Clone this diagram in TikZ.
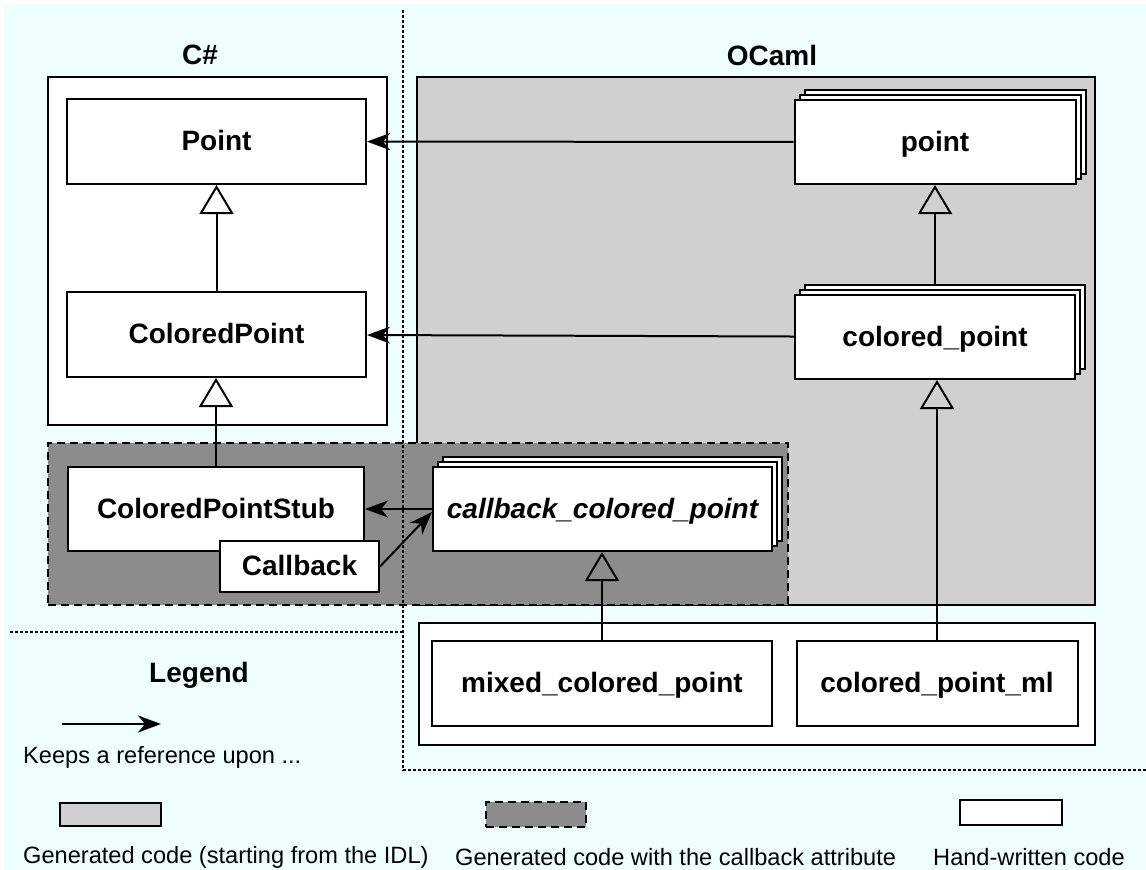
\documentclass[tikz,border=0pt]{standalone}
\usepackage{fontspec}
\setmainfont{Liberation Sans}
\usetikzlibrary{arrows.meta,shadows}
\definecolor{bgcyan}{RGB}{239,255,255}
\definecolor{idlgray}{RGB}{208,208,208}
\definecolor{cbgray}{RGB}{140,140,140}
\tikzset{
  lbl/.style={font=\fontsize{28}{33}\selectfont\bfseries},
  txt/.style={font=\fontsize{23.6}{28}\selectfont, anchor=west, inner sep=0pt},
  cls/.style={draw, fill=white, line width=2pt, inner sep=0pt, lbl,
      text height=18pt, text depth=-2pt},
  stackbox/.style={cls, double copy shadow={shadow xshift=5pt, shadow yshift=5pt,
      fill=white, draw=black, line width=2pt}},
  frame/.style={draw, line width=2pt, inner sep=0pt},
  sep/.style={line width=1.8pt, dash pattern=on 2.5pt off 2.5pt},
  ref/.style={line width=2pt, -{Stealth[length=23pt, width=17pt, inset=7pt]}},
  inh/.style={line width=2pt, -{Triangle[open, length=29pt, width=34pt, line width=2pt]}},
}
\begin{document}
\begin{tikzpicture}[x=1pt, y=-1pt]
\useasboundingbox (0,0) rectangle (1146,870);
\fill[bgcyan] (4,4) rectangle (1146,870);

% code regions
\node[frame, fill=idlgray, minimum width=678pt, minimum height=528pt] (ocamlbox) at (756,341) {};
\node[frame, fill=white, minimum width=339pt, minimum height=348pt] (csbox) at (217.5,251) {};
\node[frame, fill=cbgray, dash pattern=on 8pt off 5pt, minimum width=740pt, minimum height=162pt] (cbbox) at (418,524) {};
\node[frame, fill=white, minimum width=676pt, minimum height=122pt] (handbox) at (757,684) {};

% separators
\draw[sep] (403,10) -- (403,770) -- (1146,770);
\draw[sep] (10,632) -- (403,632);

% column titles
\node[lbl] (cs) at (200,55) {C\#};
\node[lbl] (ocaml) at (772,55) {OCaml};

% C# classes
\node[cls, minimum width=299pt, minimum height=85pt] (Point) at (216.5,141.5) {Point};
\node[cls, minimum width=299pt, minimum height=85pt] (CP) at (216.5,334.5) {ColoredPoint};
\node[cls, minimum width=296pt, minimum height=84pt] (Stub) at (216,509) {ColoredPointStub};
\node[cls, minimum width=159pt, minimum height=51pt] (cb) at (299.5,566.5) {Callback};

% OCaml classes
\node[stackbox, minimum width=281pt, minimum height=84pt] (point) at (935,142) {point};
\node[stackbox, minimum width=280pt, minimum height=84pt] (cpt) at (935,337) {colored\_point};
\node[stackbox, minimum width=339pt, minimum height=84pt, font=\fontsize{28}{33}\selectfont\bfseries\itshape] (ccp) at (602.5,509) {callback\_colored\_point};
\node[cls, minimum width=340pt, minimum height=85pt] (mcp) at (602,683.5) {mixed\_colored\_point};
\node[cls, minimum width=281pt, minimum height=85pt] (cpml) at (937,683.5) {colored\_point\_ml};

% references
\draw[ref] (point) -- (Point);
\draw[ref] (cpt) -- (CP);
\draw[ref] (ccp.west) -- (Stub.east);
\draw[ref] (cb.east) -- ([yshift=-3pt]ccp.west);

% inheritance
\draw[inh] (CP.north) -- (Point.south);
\draw[inh] (Stub.north) -- (Stub.north |- CP.south);
\draw[inh] ([yshift=10pt]cpt.north) -- (point.south);
\draw[inh] (cpml.north) -- (cpml.north |- cpt.south);
\draw[inh] (mcp.north) -- (mcp.north |- ccp.south);

% legend
\node[lbl] (legend) at (199,675) {Legend};
\coordinate (la) at (62,724);
\coordinate (lb) at (161,724);
\draw[ref] (la) -- (lb);
\node[txt] (keeps) at (23,757) {Keeps a reference upon ...};

\node[frame, fill=idlgray, minimum width=101pt, minimum height=23pt] (lgidl) at (110.5,814.5) {};
\node[txt] (tidl) at (23,857) {Generated code (starting from the IDL)};
\node[frame, fill=cbgray, dash pattern=on 8pt off 5pt, minimum width=100pt, minimum height=25pt] (lgcb) at (536,814.5) {};
\node[txt] (tcb) at (455,857) {Generated code with the callback attribute};
\node[frame, fill=white, minimum width=102pt, minimum height=25pt] (lghand) at (1011,812.5) {};
\node[txt] (thand) at (933,857) {Hand-written code};
\end{tikzpicture}
\end{document}
